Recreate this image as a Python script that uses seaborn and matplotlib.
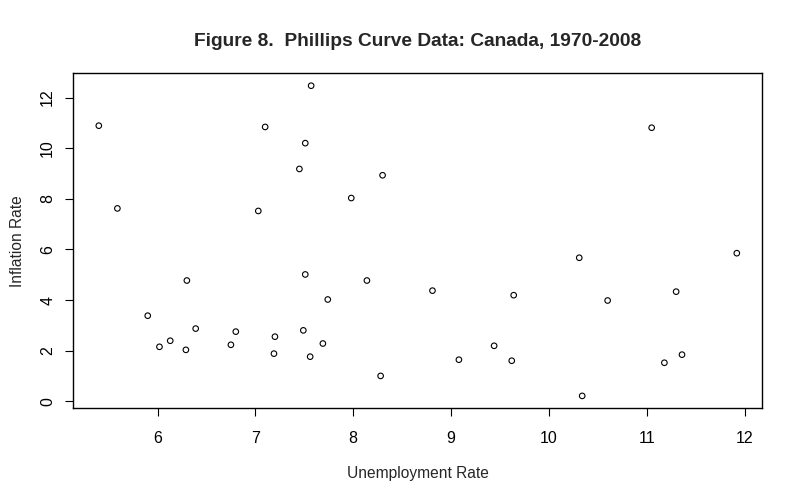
import matplotlib
matplotlib.use("Agg")
import matplotlib.pyplot as plt
import seaborn as sns
import pandas as pd

# Unemployment rate (%) and inflation rate (%) for Canada, 1970-2008
unemployment = [5.40, 5.59, 7.10, 7.03, 7.45, 6.30, 5.90, 6.39, 6.02, 6.13,
                6.29, 6.75, 6.80, 7.20, 7.19, 7.57, 7.51, 8.30, 7.98, 7.51,
                8.14, 7.74, 8.81, 9.64, 7.49, 7.69, 7.56, 8.28, 9.08, 9.44,
                9.62, 11.05, 10.31, 11.92, 10.60, 11.30, 11.36, 11.18, 10.34]
inflation = [10.89, 7.62, 10.84, 7.52, 9.18, 4.77, 3.38, 2.87, 2.15, 2.39,
             2.03, 2.23, 2.75, 2.55, 1.88, 12.47, 10.20, 8.93, 8.03, 5.01,
             4.77, 4.02, 4.37, 4.19, 2.80, 2.28, 1.76, 1.00, 1.64, 2.19,
             1.60, 10.81, 5.67, 5.85, 3.98, 4.33, 1.84, 1.52, 0.21]
x_ticks = [6, 7, 8, 9, 10, 11, 12]
y_ticks = [0, 2, 4, 6, 8, 10, 12]

title = "Figure 8.  Phillips Curve Data: Canada, 1970-2008"
x_label = "Unemployment Rate"
y_label = "Inflation Rate"

sns.set_style("white")
plt.rcParams['font.family'] = ['Liberation Sans', 'DejaVu Sans']

df = pd.DataFrame({"Unemployment": unemployment, "Inflation": inflation})

fig = plt.figure(figsize=(8, 5), dpi=100)
ax = fig.add_axes([0.0916, 0.1834, 0.8613, 0.67])

sns.scatterplot(data=df, x="Unemployment", y="Inflation", ax=ax,
                marker="o", s=16, facecolors="none", edgecolor="black",
                linewidth=0.8, legend=False)

# R-style 4% axis expansion
xmin, xmax = min(unemployment), max(unemployment)
ymin, ymax = min(inflation), max(inflation)
xp = 0.04 * (xmax - xmin)
yp = 0.04 * (ymax - ymin)
ax.set_xlim(xmin - xp, xmax + xp)
ax.set_ylim(ymin - yp, ymax + yp)

ax.set_xticks(x_ticks)
ax.set_yticks(y_ticks)
ax.set_xticklabels([str(t) for t in x_ticks])
ax.set_yticklabels([str(t) for t in y_ticks], rotation=90, va="center")

for s in ax.spines.values():
    s.set_visible(True)
    s.set_color("black")
    s.set_linewidth(1.0)

ax.tick_params(axis="both", direction="out", length=6, width=0.8,
               color="black", labelsize=11.5, labelcolor="black",
               bottom=True, left=True)
ax.tick_params(axis="x", pad=10)
ax.tick_params(axis="y", pad=7)

ax.set_xlabel(x_label, fontsize=11.2, labelpad=15)
ax.set_ylabel(y_label, fontsize=11.2, labelpad=11)
fig.text(0.5224, 0.918, title, ha="center", va="center",
         fontsize=13.8, fontweight="bold")

fig.savefig("out.png", dpi=100, facecolor="white")
